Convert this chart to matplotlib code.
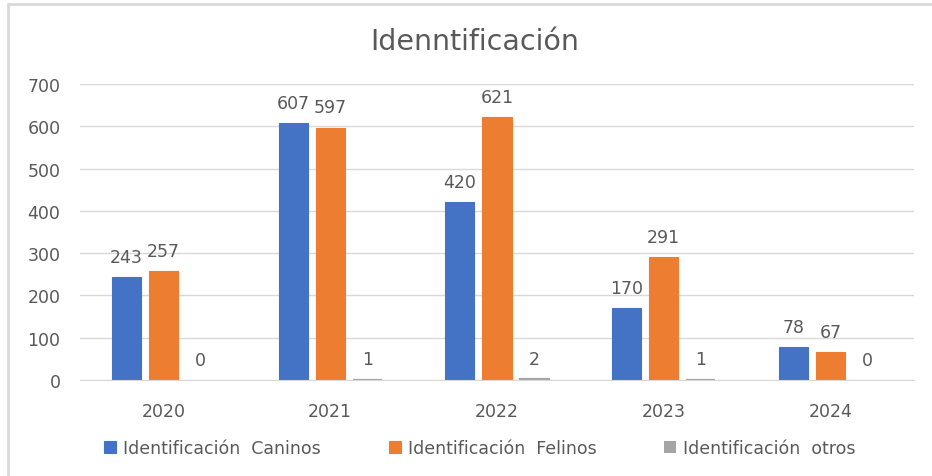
import matplotlib.pyplot as plt
import numpy as np
from matplotlib.patches import Rectangle

# data
years = ["2020", "2021", "2022", "2023", "2024"]
caninos = [243, 607, 420, 170, 78]
felinos = [257, 597, 621, 291, 67]
otros = [0, 1, 2, 1, 0]

# name, values, colour, edge width (thicker for the tiny "otros" bars)
series = [
    ("Identificación  Caninos", caninos, "#4472C4", 0.8),
    ("Identificación  Felinos", felinos, "#ED7D31", 0.8),
    ("Identificación  otros", otros, "#A5A5A5", 1.6),
]

plt.rcParams["font.family"] = ["DejaVu Sans"]
txt = "#595959"

W, H = 932, 477
fig = plt.figure(figsize=(W / 100, H / 100), dpi=100)
ax = fig.add_axes([80 / W, 1 - 381 / H, 834 / W, 296 / H])

# outer chart frame (cut at right and bottom like the screenshot)
fig.patches.append(Rectangle((8 / W, -0.1), 1.2, 1 - 5 / H + 0.1,
                             transform=fig.transFigure, fill=False,
                             edgecolor="#D9D9D9", linewidth=2))

x = np.arange(len(years))
bw = 0.174
step = 0.222
for i, (name, vals, col, w) in enumerate(series):
    pos = x + (i - 1) * step
    lw = [w if v > 0 else 0 for v in vals]
    ax.bar(pos, vals, width=bw, color=col, edgecolor=col, linewidth=lw,
           label=name, zorder=3)
    for p, v in zip(pos, vals):
        ax.annotate(str(v), (p, v), xytext=(0, 14.5), textcoords="offset points",
                    ha="center", va="center", fontsize=12.5, color=txt)

ax.set_ylim(0, 700)
ax.set_xlim(-0.5, 4.5)
ax.set_yticks(range(0, 701, 100))
ax.set_xticks(x)
ax.set_xticklabels(years)
ax.grid(axis="y", color="#D9D9D9", linewidth=1, zorder=0)
for s in ["top", "right", "left"]:
    ax.spines[s].set_visible(False)
ax.spines["bottom"].set_color("#D9D9D9")
ax.spines["bottom"].set_zorder(4)
ax.tick_params(axis="both", length=0, labelsize=12.5, colors=txt)
ax.tick_params(axis="y", pad=14)
ax.tick_params(axis="x", pad=16)

fig.text(475 / W, 1 - 42 / H, "Idenntificación", ha="center", va="center",
         fontsize=20.5, color=txt)

fig.legend(loc="center", bbox_to_anchor=(480 / W, 1 - 449 / H), ncol=3,
           frameon=False, fontsize=12.5, labelcolor=txt, handlelength=0.7,
           handleheight=0.7, handletextpad=0.4, columnspacing=3.9)

fig.savefig("out.png", dpi=100)
